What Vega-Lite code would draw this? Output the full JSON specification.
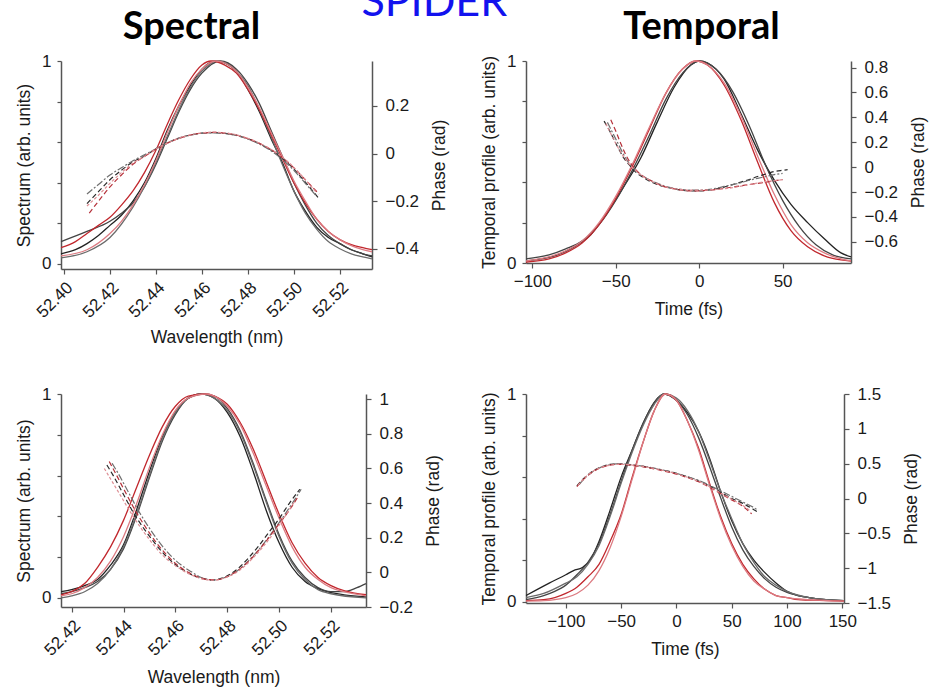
{
"$schema": "https://vega.github.io/schema/vega-lite/v6.json",
"background": "white",
"padding": {"left": 15, "top": -18, "right": 5, "bottom": 5},
"title": {"text": "SPIDER", "color": "#1212ee", "font": "Lato", "fontSize": 43, "fontWeight": "normal", "anchor": "middle", "dx": -37, "offset": -16},
"columns": 2,
"bounds": "flush",
"align": "each",
"spacing": {"row": 125, "column": 154},
"datasets": {
"s1i": [
{"s":"k1","x":52.3987,"y":0.05},{"s":"k1","x":52.405,"y":0.07},{"s":"k1","x":52.41,"y":0.10},{"s":"k1","x":52.415,"y":0.14},{"s":"k1","x":52.42,"y":0.19},{"s":"k1","x":52.425,"y":0.24},{"s":"k1","x":52.43,"y":0.31},{"s":"k1","x":52.435,"y":0.40},{"s":"k1","x":52.44,"y":0.52},{"s":"k1","x":52.445,"y":0.66},{"s":"k1","x":52.45,"y":0.78},{"s":"k1","x":52.455,"y":0.88},{"s":"k1","x":52.46,"y":0.96},{"s":"k1","x":52.466,"y":1.0},{"s":"k1","x":52.47,"y":0.99},{"s":"k1","x":52.475,"y":0.95},{"s":"k1","x":52.48,"y":0.86},{"s":"k1","x":52.485,"y":0.75},{"s":"k1","x":52.49,"y":0.62},{"s":"k1","x":52.495,"y":0.50},{"s":"k1","x":52.50,"y":0.36},{"s":"k1","x":52.505,"y":0.26},{"s":"k1","x":52.51,"y":0.18},{"s":"k1","x":52.515,"y":0.13},{"s":"k1","x":52.52,"y":0.10},{"s":"k1","x":52.525,"y":0.07},{"s":"k1","x":52.53,"y":0.05},{"s":"k1","x":52.534,"y":0.035},
{"s":"k2","x":52.3987,"y":0.11},{"s":"k2","x":52.41,"y":0.16},{"s":"k2","x":52.42,"y":0.21},{"s":"k2","x":52.425,"y":0.25},{"s":"k2","x":52.43,"y":0.30},{"s":"k2","x":52.435,"y":0.38},{"s":"k2","x":52.44,"y":0.49},{"s":"k2","x":52.445,"y":0.62},{"s":"k2","x":52.45,"y":0.75},{"s":"k2","x":52.455,"y":0.86},{"s":"k2","x":52.46,"y":0.94},{"s":"k2","x":52.468,"y":1.0},{"s":"k2","x":52.475,"y":0.96},{"s":"k2","x":52.48,"y":0.89},{"s":"k2","x":52.485,"y":0.79},{"s":"k2","x":52.49,"y":0.66},{"s":"k2","x":52.495,"y":0.53},{"s":"k2","x":52.50,"y":0.40},{"s":"k2","x":52.505,"y":0.29},{"s":"k2","x":52.51,"y":0.20},{"s":"k2","x":52.515,"y":0.14},{"s":"k2","x":52.52,"y":0.10},{"s":"k2","x":52.525,"y":0.07},{"s":"k2","x":52.53,"y":0.05},{"s":"k2","x":52.534,"y":0.04},
{"s":"k3","x":52.3987,"y":0.03},{"s":"k3","x":52.41,"y":0.06},{"s":"k3","x":52.42,"y":0.13},{"s":"k3","x":52.43,"y":0.28},{"s":"k3","x":52.435,"y":0.38},{"s":"k3","x":52.44,"y":0.50},{"s":"k3","x":52.445,"y":0.63},{"s":"k3","x":52.45,"y":0.76},{"s":"k3","x":52.455,"y":0.87},{"s":"k3","x":52.46,"y":0.95},{"s":"k3","x":52.467,"y":1.0},{"s":"k3","x":52.475,"y":0.95},{"s":"k3","x":52.48,"y":0.88},{"s":"k3","x":52.485,"y":0.76},{"s":"k3","x":52.49,"y":0.63},{"s":"k3","x":52.495,"y":0.49},{"s":"k3","x":52.50,"y":0.36},{"s":"k3","x":52.505,"y":0.25},{"s":"k3","x":52.51,"y":0.17},{"s":"k3","x":52.515,"y":0.11},{"s":"k3","x":52.52,"y":0.075},{"s":"k3","x":52.525,"y":0.05},{"s":"k3","x":52.53,"y":0.035},{"s":"k3","x":52.534,"y":0.025},
{"s":"r1","x":52.3987,"y":0.08},{"s":"r1","x":52.405,"y":0.11},{"s":"r1","x":52.41,"y":0.15},{"s":"r1","x":52.415,"y":0.19},{"s":"r1","x":52.42,"y":0.23},{"s":"r1","x":52.425,"y":0.29},{"s":"r1","x":52.43,"y":0.36},{"s":"r1","x":52.435,"y":0.45},{"s":"r1","x":52.44,"y":0.56},{"s":"r1","x":52.445,"y":0.69},{"s":"r1","x":52.45,"y":0.81},{"s":"r1","x":52.455,"y":0.91},{"s":"r1","x":52.46,"y":0.98},{"s":"r1","x":52.464,"y":1.0},{"s":"r1","x":52.47,"y":0.98},{"s":"r1","x":52.475,"y":0.94},{"s":"r1","x":52.48,"y":0.86},{"s":"r1","x":52.485,"y":0.76},{"s":"r1","x":52.49,"y":0.64},{"s":"r1","x":52.495,"y":0.52},{"s":"r1","x":52.50,"y":0.40},{"s":"r1","x":52.505,"y":0.30},{"s":"r1","x":52.51,"y":0.22},{"s":"r1","x":52.515,"y":0.16},{"s":"r1","x":52.52,"y":0.12},{"s":"r1","x":52.525,"y":0.095},{"s":"r1","x":52.53,"y":0.08},{"s":"r1","x":52.534,"y":0.07},
{"s":"r2","x":52.3987,"y":0.04},{"s":"r2","x":52.41,"y":0.07},{"s":"r2","x":52.42,"y":0.15},{"s":"r2","x":52.425,"y":0.21},{"s":"r2","x":52.43,"y":0.29},{"s":"r2","x":52.435,"y":0.39},{"s":"r2","x":52.44,"y":0.51},{"s":"r2","x":52.445,"y":0.65},{"s":"r2","x":52.45,"y":0.78},{"s":"r2","x":52.455,"y":0.89},{"s":"r2","x":52.46,"y":0.96},{"s":"r2","x":52.466,"y":1.0},{"s":"r2","x":52.47,"y":0.99},{"s":"r2","x":52.475,"y":0.95},{"s":"r2","x":52.48,"y":0.87},{"s":"r2","x":52.485,"y":0.77},{"s":"r2","x":52.49,"y":0.65},{"s":"r2","x":52.495,"y":0.53},{"s":"r2","x":52.50,"y":0.41},{"s":"r2","x":52.505,"y":0.31},{"s":"r2","x":52.51,"y":0.22},{"s":"r2","x":52.515,"y":0.16},{"s":"r2","x":52.52,"y":0.12},{"s":"r2","x":52.525,"y":0.09},{"s":"r2","x":52.53,"y":0.07},{"s":"r2","x":52.534,"y":0.06}
],
"s1p": [
{"s":"pk1","x":52.41,"y":-0.21},{"s":"pk1","x":52.415,"y":-0.16},{"s":"pk1","x":52.42,"y":-0.11},{"s":"pk1","x":52.425,"y":-0.07},{"s":"pk1","x":52.43,"y":-0.035},{"s":"pk1","x":52.435,"y":-0.01},{"s":"pk1","x":52.44,"y":0.02},{"s":"pk1","x":52.445,"y":0.045},{"s":"pk1","x":52.45,"y":0.065},{"s":"pk1","x":52.455,"y":0.078},{"s":"pk1","x":52.46,"y":0.086},{"s":"pk1","x":52.465,"y":0.088},{"s":"pk1","x":52.47,"y":0.085},{"s":"pk1","x":52.475,"y":0.077},{"s":"pk1","x":52.48,"y":0.062},{"s":"pk1","x":52.485,"y":0.042},{"s":"pk1","x":52.49,"y":0.015},{"s":"pk1","x":52.495,"y":-0.02},{"s":"pk1","x":52.50,"y":-0.065},{"s":"pk1","x":52.505,"y":-0.12},{"s":"pk1","x":52.511,"y":-0.19},
{"s":"pk2","x":52.41,"y":-0.17},{"s":"pk2","x":52.415,"y":-0.13},{"s":"pk2","x":52.42,"y":-0.09},{"s":"pk2","x":52.425,"y":-0.06},{"s":"pk2","x":52.43,"y":-0.03},{"s":"pk2","x":52.435,"y":-0.005},{"s":"pk2","x":52.44,"y":0.02},{"s":"pk2","x":52.445,"y":0.045},{"s":"pk2","x":52.45,"y":0.064},{"s":"pk2","x":52.455,"y":0.077},{"s":"pk2","x":52.46,"y":0.085},{"s":"pk2","x":52.465,"y":0.087},{"s":"pk2","x":52.47,"y":0.084},{"s":"pk2","x":52.475,"y":0.076},{"s":"pk2","x":52.48,"y":0.061},{"s":"pk2","x":52.485,"y":0.04},{"s":"pk2","x":52.49,"y":0.012},{"s":"pk2","x":52.495,"y":-0.025},{"s":"pk2","x":52.50,"y":-0.07},{"s":"pk2","x":52.505,"y":-0.125},{"s":"pk2","x":52.51,"y":-0.18},
{"s":"pr1","x":52.411,"y":-0.25},{"s":"pr1","x":52.415,"y":-0.2},{"s":"pr1","x":52.42,"y":-0.14},{"s":"pr1","x":52.425,"y":-0.09},{"s":"pr1","x":52.43,"y":-0.045},{"s":"pr1","x":52.435,"y":-0.012},{"s":"pr1","x":52.44,"y":0.018},{"s":"pr1","x":52.445,"y":0.044},{"s":"pr1","x":52.45,"y":0.064},{"s":"pr1","x":52.455,"y":0.078},{"s":"pr1","x":52.46,"y":0.086},{"s":"pr1","x":52.465,"y":0.089},{"s":"pr1","x":52.47,"y":0.086},{"s":"pr1","x":52.475,"y":0.078},{"s":"pr1","x":52.48,"y":0.063},{"s":"pr1","x":52.485,"y":0.043},{"s":"pr1","x":52.49,"y":0.017},{"s":"pr1","x":52.495,"y":-0.017},{"s":"pr1","x":52.50,"y":-0.06},{"s":"pr1","x":52.505,"y":-0.11},{"s":"pr1","x":52.511,"y":-0.17},
{"s":"pr2","x":52.41,"y":-0.22},{"s":"pr2","x":52.415,"y":-0.175},{"s":"pr2","x":52.42,"y":-0.125},{"s":"pr2","x":52.425,"y":-0.08},{"s":"pr2","x":52.43,"y":-0.04},{"s":"pr2","x":52.435,"y":-0.012},{"s":"pr2","x":52.44,"y":0.019},{"s":"pr2","x":52.445,"y":0.044},{"s":"pr2","x":52.45,"y":0.064},{"s":"pr2","x":52.455,"y":0.078},{"s":"pr2","x":52.46,"y":0.087},{"s":"pr2","x":52.465,"y":0.09},{"s":"pr2","x":52.47,"y":0.087},{"s":"pr2","x":52.475,"y":0.079},{"s":"pr2","x":52.48,"y":0.064},{"s":"pr2","x":52.485,"y":0.044},{"s":"pr2","x":52.49,"y":0.018},{"s":"pr2","x":52.495,"y":-0.015},{"s":"pr2","x":52.50,"y":-0.058},{"s":"pr2","x":52.505,"y":-0.11},{"s":"pr2","x":52.51,"y":-0.165}
],
"s2i": [
{"s":"k1","x":-103.8,"y":0.01},{"s":"k1","x":-95,"y":0.02},{"s":"k1","x":-85,"y":0.04},{"s":"k1","x":-75,"y":0.08},{"s":"k1","x":-65,"y":0.14},{"s":"k1","x":-55,"y":0.25},{"s":"k1","x":-45,"y":0.38},{"s":"k1","x":-35,"y":0.52},{"s":"k1","x":-25,"y":0.70},{"s":"k1","x":-15,"y":0.87},{"s":"k1","x":-5,"y":0.98},{"s":"k1","x":0,"y":1.0},{"s":"k1","x":5,"y":0.99},{"s":"k1","x":15,"y":0.91},{"s":"k1","x":25,"y":0.74},{"s":"k1","x":35,"y":0.56},{"s":"k1","x":45,"y":0.41},{"s":"k1","x":55,"y":0.29},{"s":"k1","x":65,"y":0.20},{"s":"k1","x":75,"y":0.12},{"s":"k1","x":85,"y":0.05},{"s":"k1","x":91,"y":0.03},
{"s":"k2","x":-103.8,"y":0.02},{"s":"k2","x":-90,"y":0.04},{"s":"k2","x":-80,"y":0.07},{"s":"k2","x":-70,"y":0.11},{"s":"k2","x":-60,"y":0.19},{"s":"k2","x":-50,"y":0.31},{"s":"k2","x":-40,"y":0.46},{"s":"k2","x":-30,"y":0.63},{"s":"k2","x":-20,"y":0.81},{"s":"k2","x":-10,"y":0.94},{"s":"k2","x":0,"y":1.0},{"s":"k2","x":10,"y":0.96},{"s":"k2","x":20,"y":0.85},{"s":"k2","x":30,"y":0.68},{"s":"k2","x":40,"y":0.48},{"s":"k2","x":50,"y":0.31},{"s":"k2","x":60,"y":0.18},{"s":"k2","x":70,"y":0.09},{"s":"k2","x":80,"y":0.04},{"s":"k2","x":91,"y":0.02},
{"s":"r1","x":-103.8,"y":0.005},{"s":"r1","x":-90,"y":0.02},{"s":"r1","x":-80,"y":0.05},{"s":"r1","x":-70,"y":0.10},{"s":"r1","x":-60,"y":0.19},{"s":"r1","x":-50,"y":0.32},{"s":"r1","x":-40,"y":0.48},{"s":"r1","x":-30,"y":0.66},{"s":"r1","x":-20,"y":0.84},{"s":"r1","x":-10,"y":0.96},{"s":"r1","x":-2,"y":1.0},{"s":"r1","x":5,"y":0.98},{"s":"r1","x":15,"y":0.88},{"s":"r1","x":25,"y":0.71},{"s":"r1","x":35,"y":0.50},{"s":"r1","x":45,"y":0.30},{"s":"r1","x":55,"y":0.16},{"s":"r1","x":65,"y":0.08},{"s":"r1","x":75,"y":0.035},{"s":"r1","x":85,"y":0.015},{"s":"r1","x":91,"y":0.01},
{"s":"r2","x":-103.8,"y":0.01},{"s":"r2","x":-90,"y":0.03},{"s":"r2","x":-80,"y":0.06},{"s":"r2","x":-70,"y":0.11},{"s":"r2","x":-60,"y":0.20},{"s":"r2","x":-50,"y":0.33},{"s":"r2","x":-40,"y":0.49},{"s":"r2","x":-30,"y":0.67},{"s":"r2","x":-20,"y":0.84},{"s":"r2","x":-10,"y":0.96},{"s":"r2","x":-2,"y":1.0},{"s":"r2","x":5,"y":0.98},{"s":"r2","x":15,"y":0.89},{"s":"r2","x":25,"y":0.73},{"s":"r2","x":35,"y":0.53},{"s":"r2","x":45,"y":0.34},{"s":"r2","x":55,"y":0.19},{"s":"r2","x":65,"y":0.10},{"s":"r2","x":75,"y":0.05},{"s":"r2","x":85,"y":0.02},{"s":"r2","x":91,"y":0.01}
],
"s2p": [
{"s":"pk1","x":-57,"y":0.37},{"s":"pk1","x":-54,"y":0.30},{"s":"pk1","x":-51,"y":0.22},{"s":"pk1","x":-48,"y":0.14},{"s":"pk1","x":-45,"y":0.07},{"s":"pk1","x":-42,"y":0.02},{"s":"pk1","x":-38,"y":-0.04},{"s":"pk1","x":-34,"y":-0.08},{"s":"pk1","x":-30,"y":-0.11},{"s":"pk1","x":-25,"y":-0.14},{"s":"pk1","x":-20,"y":-0.16},{"s":"pk1","x":-15,"y":-0.175},{"s":"pk1","x":-10,"y":-0.185},{"s":"pk1","x":-5,"y":-0.19},{"s":"pk1","x":0,"y":-0.19},{"s":"pk1","x":5,"y":-0.185},{"s":"pk1","x":10,"y":-0.175},{"s":"pk1","x":15,"y":-0.16},{"s":"pk1","x":20,"y":-0.14},{"s":"pk1","x":25,"y":-0.12},{"s":"pk1","x":30,"y":-0.10},{"s":"pk1","x":35,"y":-0.075},{"s":"pk1","x":40,"y":-0.055},{"s":"pk1","x":45,"y":-0.035},{"s":"pk1","x":50,"y":-0.025},{"s":"pk1","x":53,"y":-0.02},
{"s":"pk2","x":-55,"y":0.36},{"s":"pk2","x":-52,"y":0.28},{"s":"pk2","x":-49,"y":0.20},{"s":"pk2","x":-46,"y":0.12},{"s":"pk2","x":-43,"y":0.05},{"s":"pk2","x":-40,"y":0.0},{"s":"pk2","x":-35,"y":-0.06},{"s":"pk2","x":-30,"y":-0.10},{"s":"pk2","x":-25,"y":-0.13},{"s":"pk2","x":-20,"y":-0.155},{"s":"pk2","x":-15,"y":-0.17},{"s":"pk2","x":-10,"y":-0.18},{"s":"pk2","x":-5,"y":-0.185},{"s":"pk2","x":0,"y":-0.185},{"s":"pk2","x":5,"y":-0.18},{"s":"pk2","x":10,"y":-0.17},{"s":"pk2","x":15,"y":-0.155},{"s":"pk2","x":20,"y":-0.14},{"s":"pk2","x":25,"y":-0.125},{"s":"pk2","x":30,"y":-0.105},{"s":"pk2","x":35,"y":-0.09},{"s":"pk2","x":40,"y":-0.075},{"s":"pk2","x":45,"y":-0.06},{"s":"pk2","x":50,"y":-0.05},
{"s":"pr1","x":-53,"y":0.38},{"s":"pr1","x":-50,"y":0.29},{"s":"pr1","x":-47,"y":0.19},{"s":"pr1","x":-44,"y":0.10},{"s":"pr1","x":-41,"y":0.03},{"s":"pr1","x":-38,"y":-0.02},{"s":"pr1","x":-34,"y":-0.07},{"s":"pr1","x":-30,"y":-0.10},{"s":"pr1","x":-25,"y":-0.135},{"s":"pr1","x":-20,"y":-0.16},{"s":"pr1","x":-15,"y":-0.175},{"s":"pr1","x":-10,"y":-0.185},{"s":"pr1","x":-5,"y":-0.19},{"s":"pr1","x":0,"y":-0.19},{"s":"pr1","x":5,"y":-0.185},{"s":"pr1","x":10,"y":-0.18},{"s":"pr1","x":15,"y":-0.17},{"s":"pr1","x":20,"y":-0.16},{"s":"pr1","x":25,"y":-0.15},{"s":"pr1","x":30,"y":-0.14},{"s":"pr1","x":35,"y":-0.13},{"s":"pr1","x":40,"y":-0.12},{"s":"pr1","x":45,"y":-0.11},{"s":"pr1","x":50,"y":-0.10},
{"s":"pr2","x":-56,"y":0.35},{"s":"pr2","x":-53,"y":0.27},{"s":"pr2","x":-50,"y":0.19},{"s":"pr2","x":-47,"y":0.12},{"s":"pr2","x":-44,"y":0.06},{"s":"pr2","x":-41,"y":0.01},{"s":"pr2","x":-37,"y":-0.04},{"s":"pr2","x":-33,"y":-0.08},{"s":"pr2","x":-28,"y":-0.115},{"s":"pr2","x":-22,"y":-0.15},{"s":"pr2","x":-16,"y":-0.17},{"s":"pr2","x":-10,"y":-0.18},{"s":"pr2","x":-4,"y":-0.185},{"s":"pr2","x":2,"y":-0.185},{"s":"pr2","x":8,"y":-0.18},{"s":"pr2","x":14,"y":-0.175},{"s":"pr2","x":20,"y":-0.165},{"s":"pr2","x":26,"y":-0.15},{"s":"pr2","x":32,"y":-0.135},{"s":"pr2","x":38,"y":-0.12},{"s":"pr2","x":44,"y":-0.11},{"s":"pr2","x":50,"y":-0.10}
],
"s3i": [
{"s":"k1","x":52.4159,"y":0.03},{"s":"k1","x":52.42,"y":0.04},{"s":"k1","x":52.425,"y":0.06},{"s":"k1","x":52.43,"y":0.09},{"s":"k1","x":52.435,"y":0.16},{"s":"k1","x":52.44,"y":0.26},{"s":"k1","x":52.445,"y":0.43},{"s":"k1","x":52.45,"y":0.62},{"s":"k1","x":52.455,"y":0.79},{"s":"k1","x":52.46,"y":0.91},{"s":"k1","x":52.465,"y":0.98},{"s":"k1","x":52.47,"y":1.0},{"s":"k1","x":52.475,"y":0.98},{"s":"k1","x":52.48,"y":0.91},{"s":"k1","x":52.485,"y":0.79},{"s":"k1","x":52.49,"y":0.62},{"s":"k1","x":52.495,"y":0.43},{"s":"k1","x":52.50,"y":0.27},{"s":"k1","x":52.505,"y":0.15},{"s":"k1","x":52.51,"y":0.08},{"s":"k1","x":52.515,"y":0.045},{"s":"k1","x":52.52,"y":0.025},{"s":"k1","x":52.525,"y":0.015},{"s":"k1","x":52.5335,"y":0.005},
{"s":"k2","x":52.4159,"y":0.02},{"s":"k2","x":52.42,"y":0.03},{"s":"k2","x":52.425,"y":0.05},{"s":"k2","x":52.43,"y":0.08},{"s":"k2","x":52.435,"y":0.14},{"s":"k2","x":52.44,"y":0.24},{"s":"k2","x":52.445,"y":0.40},{"s":"k2","x":52.45,"y":0.59},{"s":"k2","x":52.455,"y":0.77},{"s":"k2","x":52.46,"y":0.90},{"s":"k2","x":52.465,"y":0.98},{"s":"k2","x":52.471,"y":1.0},{"s":"k2","x":52.475,"y":0.99},{"s":"k2","x":52.48,"y":0.93},{"s":"k2","x":52.485,"y":0.82},{"s":"k2","x":52.49,"y":0.66},{"s":"k2","x":52.495,"y":0.48},{"s":"k2","x":52.50,"y":0.31},{"s":"k2","x":52.505,"y":0.18},{"s":"k2","x":52.51,"y":0.10},{"s":"k2","x":52.515,"y":0.05},{"s":"k2","x":52.52,"y":0.03},{"s":"k2","x":52.525,"y":0.03},{"s":"k2","x":52.53,"y":0.05},{"s":"k2","x":52.5335,"y":0.07},
{"s":"k3","x":52.4159,"y":0.0},{"s":"k3","x":52.42,"y":0.01},{"s":"k3","x":52.425,"y":0.03},{"s":"k3","x":52.43,"y":0.07},{"s":"k3","x":52.435,"y":0.14},{"s":"k3","x":52.44,"y":0.25},{"s":"k3","x":52.445,"y":0.41},{"s":"k3","x":52.45,"y":0.60},{"s":"k3","x":52.455,"y":0.78},{"s":"k3","x":52.46,"y":0.91},{"s":"k3","x":52.465,"y":0.98},{"s":"k3","x":52.47,"y":1.0},{"s":"k3","x":52.475,"y":0.98},{"s":"k3","x":52.48,"y":0.92},{"s":"k3","x":52.485,"y":0.81},{"s":"k3","x":52.49,"y":0.65},{"s":"k3","x":52.495,"y":0.47},{"s":"k3","x":52.50,"y":0.30},{"s":"k3","x":52.505,"y":0.17},{"s":"k3","x":52.51,"y":0.09},{"s":"k3","x":52.515,"y":0.04},{"s":"k3","x":52.52,"y":0.02},{"s":"k3","x":52.5335,"y":0.0},
{"s":"r1","x":52.4159,"y":0.015},{"s":"r1","x":52.42,"y":0.03},{"s":"r1","x":52.425,"y":0.07},{"s":"r1","x":52.43,"y":0.15},{"s":"r1","x":52.435,"y":0.25},{"s":"r1","x":52.44,"y":0.38},{"s":"r1","x":52.445,"y":0.54},{"s":"r1","x":52.45,"y":0.70},{"s":"r1","x":52.455,"y":0.84},{"s":"r1","x":52.46,"y":0.94},{"s":"r1","x":52.465,"y":0.99},{"s":"r1","x":52.4715,"y":1.0},{"s":"r1","x":52.475,"y":0.99},{"s":"r1","x":52.48,"y":0.95},{"s":"r1","x":52.485,"y":0.86},{"s":"r1","x":52.49,"y":0.73},{"s":"r1","x":52.495,"y":0.57},{"s":"r1","x":52.50,"y":0.41},{"s":"r1","x":52.505,"y":0.27},{"s":"r1","x":52.51,"y":0.17},{"s":"r1","x":52.515,"y":0.10},{"s":"r1","x":52.52,"y":0.06},{"s":"r1","x":52.525,"y":0.035},{"s":"r1","x":52.5335,"y":0.015},
{"s":"r2","x":52.4159,"y":0.01},{"s":"r2","x":52.42,"y":0.02},{"s":"r2","x":52.425,"y":0.05},{"s":"r2","x":52.43,"y":0.10},{"s":"r2","x":52.435,"y":0.18},{"s":"r2","x":52.44,"y":0.30},{"s":"r2","x":52.445,"y":0.46},{"s":"r2","x":52.45,"y":0.64},{"s":"r2","x":52.455,"y":0.80},{"s":"r2","x":52.46,"y":0.92},{"s":"r2","x":52.465,"y":0.98},{"s":"r2","x":52.472,"y":1.0},{"s":"r2","x":52.475,"y":0.99},{"s":"r2","x":52.48,"y":0.94},{"s":"r2","x":52.485,"y":0.85},{"s":"r2","x":52.49,"y":0.71},{"s":"r2","x":52.495,"y":0.55},{"s":"r2","x":52.50,"y":0.39},{"s":"r2","x":52.505,"y":0.25},{"s":"r2","x":52.51,"y":0.15},{"s":"r2","x":52.515,"y":0.09},{"s":"r2","x":52.52,"y":0.05},{"s":"r2","x":52.525,"y":0.03},{"s":"r2","x":52.5335,"y":0.01}
],
"s3p": [
{"s":"pk1","x":52.4336,"y":0.62},{"s":"pk1","x":52.436,"y":0.56},{"s":"pk1","x":52.44,"y":0.45},{"s":"pk1","x":52.444,"y":0.34},{"s":"pk1","x":52.448,"y":0.25},{"s":"pk1","x":52.452,"y":0.17},{"s":"pk1","x":52.456,"y":0.10},{"s":"pk1","x":52.46,"y":0.045},{"s":"pk1","x":52.464,"y":0.005},{"s":"pk1","x":52.468,"y":-0.025},{"s":"pk1","x":52.472,"y":-0.04},{"s":"pk1","x":52.474,"y":-0.045},{"s":"pk1","x":52.476,"y":-0.042},{"s":"pk1","x":52.48,"y":-0.02},{"s":"pk1","x":52.484,"y":0.02},{"s":"pk1","x":52.488,"y":0.08},{"s":"pk1","x":52.492,"y":0.15},{"s":"pk1","x":52.496,"y":0.23},{"s":"pk1","x":52.50,"y":0.31},{"s":"pk1","x":52.504,"y":0.40},{"s":"pk1","x":52.508,"y":0.48},
{"s":"pk2","x":52.4356,"y":0.63},{"s":"pk2","x":52.438,"y":0.57},{"s":"pk2","x":52.442,"y":0.46},{"s":"pk2","x":52.446,"y":0.35},{"s":"pk2","x":52.45,"y":0.255},{"s":"pk2","x":52.454,"y":0.17},{"s":"pk2","x":52.458,"y":0.10},{"s":"pk2","x":52.462,"y":0.045},{"s":"pk2","x":52.466,"y":0.005},{"s":"pk2","x":52.47,"y":-0.03},{"s":"pk2","x":52.474,"y":-0.045},{"s":"pk2","x":52.478,"y":-0.035},{"s":"pk2","x":52.482,"y":-0.01},{"s":"pk2","x":52.486,"y":0.035},{"s":"pk2","x":52.49,"y":0.095},{"s":"pk2","x":52.494,"y":0.165},{"s":"pk2","x":52.498,"y":0.245},{"s":"pk2","x":52.502,"y":0.33},{"s":"pk2","x":52.506,"y":0.42},{"s":"pk2","x":52.5085,"y":0.48},
{"s":"pr1","x":52.4345,"y":0.64},{"s":"pr1","x":52.437,"y":0.57},{"s":"pr1","x":52.441,"y":0.455},{"s":"pr1","x":52.445,"y":0.345},{"s":"pr1","x":52.449,"y":0.25},{"s":"pr1","x":52.453,"y":0.165},{"s":"pr1","x":52.457,"y":0.095},{"s":"pr1","x":52.461,"y":0.04},{"s":"pr1","x":52.465,"y":0.0},{"s":"pr1","x":52.469,"y":-0.028},{"s":"pr1","x":52.473,"y":-0.042},{"s":"pr1","x":52.476,"y":-0.042},{"s":"pr1","x":52.48,"y":-0.025},{"s":"pr1","x":52.484,"y":0.01},{"s":"pr1","x":52.488,"y":0.06},{"s":"pr1","x":52.492,"y":0.125},{"s":"pr1","x":52.496,"y":0.2},{"s":"pr1","x":52.50,"y":0.28},{"s":"pr1","x":52.504,"y":0.36},{"s":"pr1","x":52.507,"y":0.43},
{"s":"pr2","x":52.4326,"y":0.6},{"s":"pr2","x":52.435,"y":0.54},{"s":"pr2","x":52.439,"y":0.44},{"s":"pr2","x":52.443,"y":0.34},{"s":"pr2","x":52.447,"y":0.25},{"s":"pr2","x":52.451,"y":0.17},{"s":"pr2","x":52.455,"y":0.10},{"s":"pr2","x":52.459,"y":0.05},{"s":"pr2","x":52.463,"y":0.01},{"s":"pr2","x":52.467,"y":-0.02},{"s":"pr2","x":52.471,"y":-0.04},{"s":"pr2","x":52.475,"y":-0.045},{"s":"pr2","x":52.479,"y":-0.032},{"s":"pr2","x":52.483,"y":-0.005},{"s":"pr2","x":52.487,"y":0.04},{"s":"pr2","x":52.491,"y":0.1},{"s":"pr2","x":52.495,"y":0.17},{"s":"pr2","x":52.499,"y":0.25},{"s":"pr2","x":52.503,"y":0.34},{"s":"pr2","x":52.506,"y":0.41}
],
"s4i": [
{"s":"k1","x":-136,"y":0.03},{"s":"k1","x":-115,"y":0.09},{"s":"k1","x":-100,"y":0.13},{"s":"k1","x":-93,"y":0.15},{"s":"k1","x":-85,"y":0.165},{"s":"k1","x":-78,"y":0.20},{"s":"k1","x":-70,"y":0.29},{"s":"k1","x":-60,"y":0.44},{"s":"k1","x":-50,"y":0.60},{"s":"k1","x":-40,"y":0.73},{"s":"k1","x":-30,"y":0.86},{"s":"k1","x":-20,"y":0.96},{"s":"k1","x":-11,"y":1.0},{"s":"k1","x":0,"y":0.97},{"s":"k1","x":10,"y":0.91},{"s":"k1","x":20,"y":0.82},{"s":"k1","x":30,"y":0.69},{"s":"k1","x":40,"y":0.53},{"s":"k1","x":50,"y":0.39},{"s":"k1","x":60,"y":0.28},{"s":"k1","x":70,"y":0.20},{"s":"k1","x":80,"y":0.14},{"s":"k1","x":90,"y":0.09},{"s":"k1","x":100,"y":0.05},{"s":"k1","x":110,"y":0.03},{"s":"k1","x":120,"y":0.02},{"s":"k1","x":135,"y":0.01},{"s":"k1","x":151.5,"y":0.005},
{"s":"k2","x":-136,"y":0.01},{"s":"k2","x":-120,"y":0.03},{"s":"k2","x":-110,"y":0.05},{"s":"k2","x":-100,"y":0.08},{"s":"k2","x":-90,"y":0.13},{"s":"k2","x":-80,"y":0.19},{"s":"k2","x":-70,"y":0.28},{"s":"k2","x":-60,"y":0.42},{"s":"k2","x":-50,"y":0.58},{"s":"k2","x":-40,"y":0.73},{"s":"k2","x":-30,"y":0.86},{"s":"k2","x":-20,"y":0.96},{"s":"k2","x":-11,"y":1.0},{"s":"k2","x":0,"y":0.97},{"s":"k2","x":10,"y":0.90},{"s":"k2","x":20,"y":0.79},{"s":"k2","x":30,"y":0.65},{"s":"k2","x":40,"y":0.50},{"s":"k2","x":50,"y":0.36},{"s":"k2","x":60,"y":0.25},{"s":"k2","x":70,"y":0.17},{"s":"k2","x":80,"y":0.11},{"s":"k2","x":90,"y":0.07},{"s":"k2","x":100,"y":0.045},{"s":"k2","x":110,"y":0.03},{"s":"k2","x":120,"y":0.02},{"s":"k2","x":135,"y":0.01},{"s":"k2","x":151.5,"y":0.005},
{"s":"k3","x":-136,"y":0.02},{"s":"k3","x":-120,"y":0.04},{"s":"k3","x":-100,"y":0.09},{"s":"k3","x":-90,"y":0.12},{"s":"k3","x":-80,"y":0.18},{"s":"k3","x":-70,"y":0.27},{"s":"k3","x":-60,"y":0.41},{"s":"k3","x":-50,"y":0.57},{"s":"k3","x":-40,"y":0.72},{"s":"k3","x":-30,"y":0.85},{"s":"k3","x":-20,"y":0.95},{"s":"k3","x":-11,"y":1.0},{"s":"k3","x":0,"y":0.98},{"s":"k3","x":10,"y":0.92},{"s":"k3","x":20,"y":0.82},{"s":"k3","x":30,"y":0.68},{"s":"k3","x":40,"y":0.53},{"s":"k3","x":50,"y":0.40},{"s":"k3","x":60,"y":0.28},{"s":"k3","x":70,"y":0.19},{"s":"k3","x":80,"y":0.12},{"s":"k3","x":90,"y":0.08},{"s":"k3","x":100,"y":0.05},{"s":"k3","x":120,"y":0.02},{"s":"k3","x":151.5,"y":0.005},
{"s":"r1","x":-136,"y":0.005},{"s":"r1","x":-120,"y":0.01},{"s":"r1","x":-110,"y":0.02},{"s":"r1","x":-100,"y":0.04},{"s":"r1","x":-90,"y":0.07},{"s":"r1","x":-80,"y":0.12},{"s":"r1","x":-70,"y":0.18},{"s":"r1","x":-60,"y":0.29},{"s":"r1","x":-50,"y":0.42},{"s":"r1","x":-40,"y":0.60},{"s":"r1","x":-30,"y":0.77},{"s":"r1","x":-20,"y":0.92},{"s":"r1","x":-10,"y":1.0},{"s":"r1","x":0,"y":0.97},{"s":"r1","x":10,"y":0.87},{"s":"r1","x":20,"y":0.74},{"s":"r1","x":30,"y":0.57},{"s":"r1","x":40,"y":0.41},{"s":"r1","x":50,"y":0.28},{"s":"r1","x":60,"y":0.18},{"s":"r1","x":70,"y":0.11},{"s":"r1","x":80,"y":0.06},{"s":"r1","x":90,"y":0.03},{"s":"r1","x":100,"y":0.02},{"s":"r1","x":110,"y":0.01},{"s":"r1","x":120,"y":0.008},{"s":"r1","x":135,"y":0.005},{"s":"r1","x":151.5,"y":0.003},
{"s":"r2","x":-136,"y":0.003},{"s":"r2","x":-120,"y":0.005},{"s":"r2","x":-110,"y":0.01},{"s":"r2","x":-100,"y":0.02},{"s":"r2","x":-90,"y":0.04},{"s":"r2","x":-80,"y":0.08},{"s":"r2","x":-70,"y":0.15},{"s":"r2","x":-60,"y":0.26},{"s":"r2","x":-50,"y":0.41},{"s":"r2","x":-40,"y":0.59},{"s":"r2","x":-30,"y":0.77},{"s":"r2","x":-20,"y":0.92},{"s":"r2","x":-10,"y":1.0},{"s":"r2","x":0,"y":0.97},{"s":"r2","x":10,"y":0.87},{"s":"r2","x":20,"y":0.73},{"s":"r2","x":30,"y":0.56},{"s":"r2","x":40,"y":0.40},{"s":"r2","x":50,"y":0.27},{"s":"r2","x":60,"y":0.17},{"s":"r2","x":70,"y":0.10},{"s":"r2","x":80,"y":0.06},{"s":"r2","x":90,"y":0.03},{"s":"r2","x":100,"y":0.02},{"s":"r2","x":120,"y":0.01},{"s":"r2","x":151.5,"y":0.003}
],
"s4p": [
{"s":"pk1","x":-90,"y":0.18},{"s":"pk1","x":-85,"y":0.27},{"s":"pk1","x":-80,"y":0.34},{"s":"pk1","x":-75,"y":0.40},{"s":"pk1","x":-70,"y":0.44},{"s":"pk1","x":-65,"y":0.47},{"s":"pk1","x":-60,"y":0.49},{"s":"pk1","x":-55,"y":0.495},{"s":"pk1","x":-50,"y":0.495},{"s":"pk1","x":-45,"y":0.49},{"s":"pk1","x":-40,"y":0.48},{"s":"pk1","x":-30,"y":0.46},{"s":"pk1","x":-20,"y":0.43},{"s":"pk1","x":-10,"y":0.40},{"s":"pk1","x":0,"y":0.36},{"s":"pk1","x":10,"y":0.31},{"s":"pk1","x":20,"y":0.25},{"s":"pk1","x":30,"y":0.18},{"s":"pk1","x":40,"y":0.09},{"s":"pk1","x":50,"y":0.0},{"s":"pk1","x":60,"y":-0.07},{"s":"pk1","x":70,"y":-0.16},{"s":"pk1","x":75,"y":-0.21},
{"s":"pk2","x":-88,"y":0.2},{"s":"pk2","x":-83,"y":0.29},{"s":"pk2","x":-78,"y":0.36},{"s":"pk2","x":-73,"y":0.41},{"s":"pk2","x":-68,"y":0.45},{"s":"pk2","x":-63,"y":0.475},{"s":"pk2","x":-58,"y":0.49},{"s":"pk2","x":-52,"y":0.5},{"s":"pk2","x":-46,"y":0.495},{"s":"pk2","x":-40,"y":0.485},{"s":"pk2","x":-30,"y":0.465},{"s":"pk2","x":-20,"y":0.435},{"s":"pk2","x":-10,"y":0.40},{"s":"pk2","x":0,"y":0.36},{"s":"pk2","x":10,"y":0.315},{"s":"pk2","x":20,"y":0.26},{"s":"pk2","x":30,"y":0.19},{"s":"pk2","x":40,"y":0.11},{"s":"pk2","x":50,"y":0.03},{"s":"pk2","x":60,"y":-0.05},{"s":"pk2","x":70,"y":-0.13},{"s":"pk2","x":74,"y":-0.17},
{"s":"pr1","x":-90,"y":0.17},{"s":"pr1","x":-85,"y":0.26},{"s":"pr1","x":-80,"y":0.33},{"s":"pr1","x":-75,"y":0.39},{"s":"pr1","x":-70,"y":0.43},{"s":"pr1","x":-65,"y":0.46},{"s":"pr1","x":-60,"y":0.48},{"s":"pr1","x":-55,"y":0.49},{"s":"pr1","x":-50,"y":0.49},{"s":"pr1","x":-45,"y":0.485},{"s":"pr1","x":-40,"y":0.475},{"s":"pr1","x":-30,"y":0.455},{"s":"pr1","x":-20,"y":0.425},{"s":"pr1","x":-10,"y":0.39},{"s":"pr1","x":0,"y":0.35},{"s":"pr1","x":10,"y":0.30},{"s":"pr1","x":20,"y":0.24},{"s":"pr1","x":30,"y":0.16},{"s":"pr1","x":40,"y":0.07},{"s":"pr1","x":50,"y":-0.02},{"s":"pr1","x":60,"y":-0.11},{"s":"pr1","x":68,"y":-0.22},
{"s":"pr2","x":-89,"y":0.19},{"s":"pr2","x":-84,"y":0.28},{"s":"pr2","x":-79,"y":0.35},{"s":"pr2","x":-74,"y":0.405},{"s":"pr2","x":-69,"y":0.44},{"s":"pr2","x":-64,"y":0.465},{"s":"pr2","x":-59,"y":0.48},{"s":"pr2","x":-53,"y":0.49},{"s":"pr2","x":-47,"y":0.49},{"s":"pr2","x":-40,"y":0.48},{"s":"pr2","x":-30,"y":0.46},{"s":"pr2","x":-20,"y":0.43},{"s":"pr2","x":-10,"y":0.395},{"s":"pr2","x":0,"y":0.355},{"s":"pr2","x":10,"y":0.305},{"s":"pr2","x":20,"y":0.245},{"s":"pr2","x":30,"y":0.17},{"s":"pr2","x":40,"y":0.08},{"s":"pr2","x":50,"y":-0.01},{"s":"pr2","x":60,"y":-0.1},{"s":"pr2","x":67,"y":-0.18}
]
},
"concat": [
{
"width": 311, "height": 208,
"title": {"text": "Spectral", "font": "Lato", "fontSize": 38, "fontWeight": "bold", "color": "#000000", "anchor": "middle", "dx": -25, "offset": 5},
"layer": [
{"data": {"name": "s1i"}, "mark": {"type": "line", "interpolate": "monotone", "strokeWidth": 1.3},
"encoding": {
"x": {"field": "x", "type": "quantitative", "scale": {"domain": [52.3987, 52.534], "nice": false, "zero": false}, "axis": {"title": "Wavelength (nm)", "values": [52.40, 52.42, 52.44, 52.46, 52.48, 52.50, 52.52], "format": ".2f", "labelAngle": -45}},
"y": {"field": "y", "type": "quantitative", "scale": {"domain": [-0.025, 1], "nice": false, "zero": false}, "axis": {"title": "Spectrum (arb. units)", "values": [0, 0.2, 0.4, 0.6, 0.8, 1], "format": "~g", "labelExpr": "datum.value == 0 || datum.value == 1 ? datum.label : ''", "tickSize": 4}},
"color": {"field": "s", "type": "nominal", "legend": null, "scale": {"domain": ["k1","k2","k3","r1","r2","pk1","pk2","pr1","pr2"], "range": ["#222222","#444444","#6b6b6b","#c1272d","#dc7b82","#2a2a2a","#707070","#b5313a","#de8f95"]}}
}},
{"data": {"name": "s1p"}, "mark": {"type": "line", "interpolate": "monotone", "strokeWidth": 1.2},
"encoding": {
"x": {"field": "x", "type": "quantitative"},
"y": {"field": "y", "type": "quantitative", "scale": {"domain": [-0.485, 0.389], "nice": false, "zero": false}, "axis": {"orient": "right", "title": "Phase (rad)", "values": [-0.4, -0.2, 0, 0.2], "format": "~g", "titleAngle": 270, "titleBaseline": "top"}},
"color": {"field": "s", "type": "nominal", "legend": null, "scale": {"domain": ["k1","k2","k3","r1","r2","pk1","pk2","pr1","pr2"], "range": ["#222222","#444444","#6b6b6b","#c1272d","#dc7b82","#2a2a2a","#707070","#b5313a","#de8f95"]}},
"strokeDash": {"field": "s", "type": "nominal", "legend": null, "scale": {"domain": ["pk1","pk2","pr1","pr2"], "range": [[5,3],[7,2,2,2],[5,3],[3,2]]}}
}}
],
"resolve": {"scale": {"y": "independent"}}
},
{
"width": 325, "height": 202,
"title": {"text": "Temporal", "font": "Lato", "fontSize": 38, "fontWeight": "bold", "color": "#000000", "anchor": "middle", "dx": 13, "offset": 5},
"layer": [
{"data": {"name": "s2i"}, "mark": {"type": "line", "interpolate": "monotone", "strokeWidth": 1.3},
"encoding": {
"x": {"field": "x", "type": "quantitative", "scale": {"domain": [-103.8, 91], "nice": false, "zero": false}, "axis": {"title": "Time (fs)", "values": [-100, -50, 0, 50], "format": "d", "titlePadding": 11}},
"y": {"field": "y", "type": "quantitative", "scale": {"domain": [0, 1], "nice": false}, "axis": {"title": "Temporal profile (arb. units)", "values": [0, 0.2, 0.4, 0.6, 0.8, 1], "format": "~g", "labelExpr": "datum.value == 0 || datum.value == 1 ? datum.label : ''", "tickSize": 4}},
"color": {"field": "s", "type": "nominal", "legend": null, "scale": {"domain": ["k1","k2","k3","r1","r2","pk1","pk2","pr1","pr2"], "range": ["#222222","#444444","#6b6b6b","#c1272d","#dc7b82","#2a2a2a","#707070","#b5313a","#de8f95"]}}
}},
{"data": {"name": "s2p"}, "mark": {"type": "line", "interpolate": "monotone", "strokeWidth": 1.2},
"encoding": {
"x": {"field": "x", "type": "quantitative"},
"y": {"field": "y", "type": "quantitative", "scale": {"domain": [-0.77, 0.853], "nice": false, "zero": false}, "axis": {"orient": "right", "title": "Phase (rad)", "values": [-0.6, -0.4, -0.2, 0, 0.2, 0.4, 0.6, 0.8], "format": "~g", "titleAngle": 270, "titleBaseline": "top"}},
"color": {"field": "s", "type": "nominal", "legend": null, "scale": {"domain": ["k1","k2","k3","r1","r2","pk1","pk2","pr1","pr2"], "range": ["#222222","#444444","#6b6b6b","#c1272d","#dc7b82","#2a2a2a","#707070","#b5313a","#de8f95"]}},
"strokeDash": {"field": "s", "type": "nominal", "legend": null, "scale": {"domain": ["pk1","pk2","pr1","pr2"], "range": [[5,3],[7,2,2,2],[5,3],[3,2]]}}
}}
],
"resolve": {"scale": {"y": "independent"}}
},
{
"width": 305, "height": 213,
"layer": [
{"data": {"name": "s3i"}, "mark": {"type": "line", "interpolate": "monotone", "strokeWidth": 1.3},
"encoding": {
"x": {"field": "x", "type": "quantitative", "scale": {"domain": [52.4159, 52.5335], "nice": false, "zero": false}, "axis": {"title": "Wavelength (nm)", "values": [52.42, 52.44, 52.46, 52.48, 52.50, 52.52], "format": ".2f", "labelAngle": -45, "titlePadding": 10}},
"y": {"field": "y", "type": "quantitative", "scale": {"domain": [-0.045, 1], "nice": false, "zero": false}, "axis": {"title": "Spectrum (arb. units)", "values": [0, 0.2, 0.4, 0.6, 0.8, 1], "format": "~g", "labelExpr": "datum.value == 0 || datum.value == 1 ? datum.label : ''", "tickSize": 4}},
"color": {"field": "s", "type": "nominal", "legend": null, "scale": {"domain": ["k1","k2","k3","r1","r2","pk1","pk2","pr1","pr2"], "range": ["#222222","#444444","#6b6b6b","#c1272d","#dc7b82","#2a2a2a","#707070","#b5313a","#de8f95"]}}
}},
{"data": {"name": "s3p"}, "mark": {"type": "line", "interpolate": "monotone", "strokeWidth": 1.2},
"encoding": {
"x": {"field": "x", "type": "quantitative"},
"y": {"field": "y", "type": "quantitative", "scale": {"domain": [-0.2, 1.03], "nice": false, "zero": false}, "axis": {"orient": "right", "title": "Phase (rad)", "values": [-0.2, 0, 0.2, 0.4, 0.6, 0.8, 1], "format": "~g", "titleAngle": 270, "titleBaseline": "top"}},
"color": {"field": "s", "type": "nominal", "legend": null, "scale": {"domain": ["k1","k2","k3","r1","r2","pk1","pk2","pr1","pr2"], "range": ["#222222","#444444","#6b6b6b","#c1272d","#dc7b82","#2a2a2a","#707070","#b5313a","#de8f95"]}},
"strokeDash": {"field": "s", "type": "nominal", "legend": null, "scale": {"domain": ["pk1","pk2","pr1","pr2"], "range": [[5,3],[7,2,2,2],[5,3],[3,2]]}}
}}
],
"resolve": {"scale": {"y": "independent"}}
},
{
"width": 318, "height": 209,
"layer": [
{"data": {"name": "s4i"}, "mark": {"type": "line", "interpolate": "monotone", "strokeWidth": 1.3},
"encoding": {
"x": {"field": "x", "type": "quantitative", "scale": {"domain": [-136, 151.5], "nice": false, "zero": false}, "axis": {"title": "Time (fs)", "values": [-100, -50, 0, 50, 100, 150], "format": "d", "titlePadding": 11}},
"y": {"field": "y", "type": "quantitative", "scale": {"domain": [-0.006, 1], "nice": false, "zero": false}, "axis": {"title": "Temporal profile (arb. units)", "values": [0, 0.2, 0.4, 0.6, 0.8, 1], "format": "~g", "labelExpr": "datum.value == 0 || datum.value == 1 ? datum.label : ''", "tickSize": 4}},
"color": {"field": "s", "type": "nominal", "legend": null, "scale": {"domain": ["k1","k2","k3","r1","r2","pk1","pk2","pr1","pr2"], "range": ["#222222","#444444","#6b6b6b","#c1272d","#dc7b82","#2a2a2a","#707070","#b5313a","#de8f95"]}}
}},
{"data": {"name": "s4p"}, "mark": {"type": "line", "interpolate": "monotone", "strokeWidth": 1.2},
"encoding": {
"x": {"field": "x", "type": "quantitative"},
"y": {"field": "y", "type": "quantitative", "scale": {"domain": [-1.5, 1.5], "nice": false, "zero": false}, "axis": {"orient": "right", "title": "Phase (rad)", "values": [-1.5, -1, -0.5, 0, 0.5, 1, 1.5], "format": "~g", "titleAngle": 270, "titleBaseline": "top"}},
"color": {"field": "s", "type": "nominal", "legend": null, "scale": {"domain": ["k1","k2","k3","r1","r2","pk1","pk2","pr1","pr2"], "range": ["#222222","#444444","#6b6b6b","#c1272d","#dc7b82","#2a2a2a","#707070","#b5313a","#de8f95"]}},
"strokeDash": {"field": "s", "type": "nominal", "legend": null, "scale": {"domain": ["pk1","pk2","pr1","pr2"], "range": [[5,3],[7,2,2,2],[5,3],[3,2]]}}
}}
],
"resolve": {"scale": {"y": "independent"}}
}
],
"config": {
"view": {"stroke": null},
"axis": {"grid": false, "labelFont": "Liberation Sans", "titleFont": "Liberation Sans", "labelFontSize": 17, "titleFontSize": 17.5, "titleFontWeight": "normal", "labelColor": "#1a1a1a", "titleColor": "#1a1a1a", "domainColor": "#555555", "domainWidth": 1.5, "tickColor": "#555555", "tickWidth": 1.2, "tickSize": 5},
"axisLeft": {"labelPadding": 6, "titlePadding": 8},
"axisRight": {"labelPadding": 8, "titlePadding": 12},
"axisBottom": {"labelPadding": 5, "titlePadding": 8}
}
}
